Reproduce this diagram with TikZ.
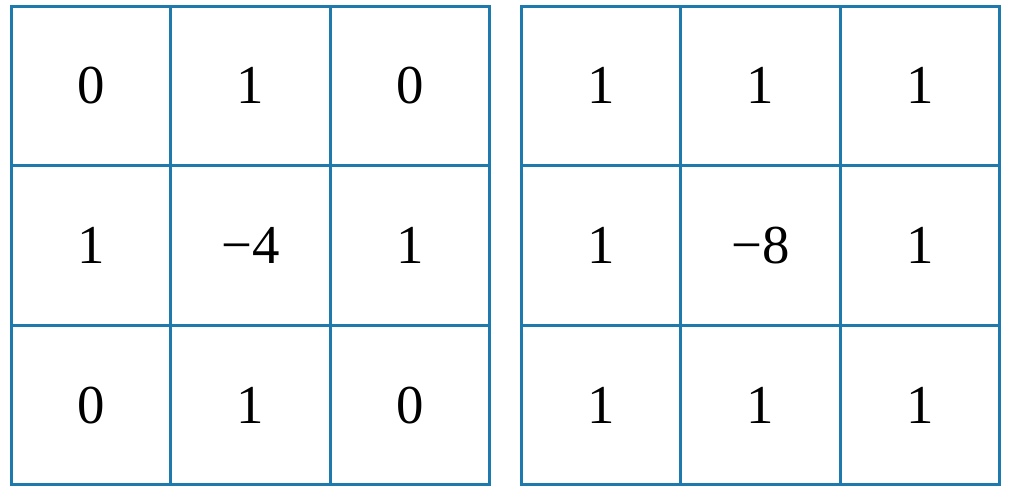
\documentclass[tikz,border=0pt]{standalone}
\usepackage{fontspec}
\setmainfont{Liberation Serif}
\usetikzlibrary{matrix,positioning}
\definecolor{gridblue}{RGB}{30,122,172}

\begin{document}
\begin{tikzpicture}[
			kernel/.style={matrix of nodes,inner sep=0pt,line width=2.2pt,nodes={draw=gridblue, line width=2.2pt, anchor=center, minimum size=3.99cm, font=\fontsize{39}{40}\selectfont},column sep=-\pgflinewidth, row sep=-\pgflinewidth, nodes in empty cells},
		]
		\useasboundingbox (0,0) rectangle (25.275,12.275);

		\matrix[kernel] (lapfour) at (6.2625,6.1375) {
			0 & 1 & 0 \\
			1 & −4 & 1 \\
			0 & 1 & 0 \\
		};

		\matrix[kernel] (lapeight) at (19.0125,6.1375) {
			1 & 1 & 1 \\
			1 & −8 & 1 \\
			1 & 1 & 1 \\
		};
	\end{tikzpicture}
\end{document}
